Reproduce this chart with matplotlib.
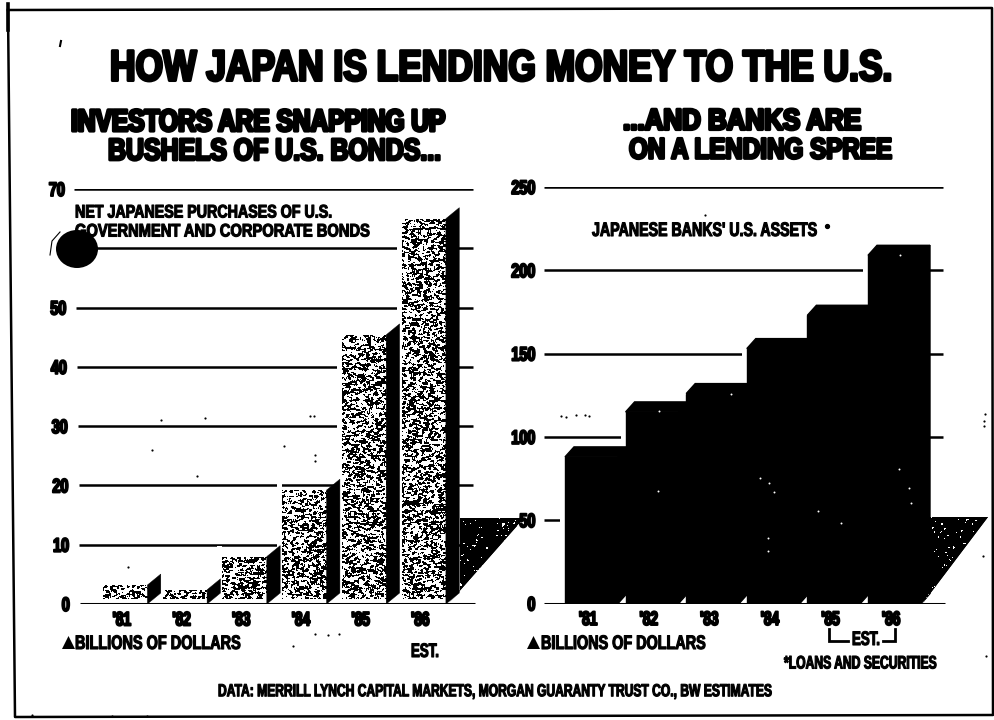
import matplotlib
matplotlib.use('Agg')
import matplotlib.pyplot as plt
import matplotlib.patheffects as pe
from matplotlib.patches import Ellipse, Polygon, Rectangle
from matplotlib.transforms import Affine2D
import numpy as np

plt.rcParams['font.family'] = ['Liberation Sans', 'DejaVu Sans']
plt.rcParams['font.weight'] = 'bold'

W, H = 994, 720

years = ["'81", "'82", "'83", "'84", "'85", "'86"]
bond_purchases = [3.2, 2.4, 8, 19.2, 45.4, 65]
bank_assets = [88, 115, 126, 153, 173, 209]
bond_ticks = [0, 10, 20, 30, 40, 50, 60, 70]
bond_tick_labels = ['0', '10', '20', '30', '40', '50', '', '70']
bank_ticks = [0, 50, 100, 150, 200, 250]

# dust on the page, dark and light
dark_specks = [(161, 420), (205, 418), (310, 416), (314, 416), (152, 450), (284, 446), (315, 455),
               (315, 461), (128, 567), (197, 476), (315, 634), (328, 635), (339, 634), (293, 646),
               (32, 715), (112, 716), (147, 716), (561, 416), (566, 417), (576, 415), (585, 415),
               (589, 416), (985, 414), (984, 421), (984, 426), (983, 556), (986, 656), (705, 215)]
light_specks = [(658, 491), (760, 478), (769, 483), (774, 492), (899, 469), (909, 488), (911, 503),
                (818, 511), (768, 538), (768, 551), (841, 523), (659, 411), (731, 394), (900, 255)]

CAP = 0.716  # cap height of the font, in em


class TallText(pe.Stroke):
    # stretches glyphs upward from the baseline, the only font at hand is too wide
    def __init__(self, sy, lw):
        super().__init__(linewidth=lw, foreground='black')
        self.sy = sy

    def draw_path(self, renderer, gc, tpath, affine, rgbFace):
        y0 = affine.get_matrix()[1, 2]
        tall = affine + Affine2D().translate(0, -y0).scale(1, self.sy).translate(0, y0)
        super().draw_path(renderer, gc, tpath, tall, rgbFace)


fig = plt.figure(figsize=(W / 100, H / 100), dpi=100, facecolor='white')


def px_axes(x0, x1, top, bottom):
    a = fig.add_axes([x0 / W, 1 - bottom / H, (x1 - x0) / W, (bottom - top) / H])
    a.axis('off')
    return a


page = px_axes(0, W, 0, H)
page.set_xlim(0, W)
page.set_ylim(H, 0)
page.set_zorder(5)
page.patch.set_alpha(0)


def fit_text(x0, x1, y, s, cap=13, stroke=0.5):
    # font size sets the width x0..x1, the effect then sets the cap height
    t = page.text(x0, y + cap / 2, s, fontsize=10, ha='left', va='baseline', color='black')
    box = t.get_window_extent(fig.canvas.get_renderer())
    size = 10 * (x1 - x0) / box.width
    t.set_fontsize(size)
    t.set_path_effects([TallText(cap / (CAP * size * 100 / 72), stroke)])
    return t


def num_text(ax, x, y, s, ha, char_px=8.0, cap=14):
    size = char_px / 0.556 * 72 / 100
    t = ax.annotate(s, (x, y), xytext=(0, -cap / 2 * 0.72), textcoords='offset points', ha=ha, va='baseline',
                    fontsize=size, annotation_clip=False, zorder=10)
    t.set_path_effects([TallText(cap / (CAP * size * 100 / 72), 1.4)])


def make_texture(seed, level, rows=440, cols=520):
    # mottled dots: noise smeared a little sideways
    rng = np.random.default_rng(seed)
    n = rng.random((rows, cols))
    n = sum(np.roll(n, (i, j), axis=(0, 1)) for i in (0, 1) for j in (-1, 0, 1))
    return n > np.quantile(n, level)


def draw_chart(ax, values, ticks, tick_labels, first_px, step, width, dx, dy, ymax, top, bottom, side):
    scale = (bottom - top) / ymax
    ax.set_ylim(0, ymax)
    x0, x1 = ax.get_position().x0 * W, ax.get_position().x1 * W
    c0 = first_px + width / 2
    ax.set_xlim((x0 - c0) / step, (x1 - c0) / step)
    px = lambda p: (p - c0) / step
    w = width / step
    ddx, ddy = dx / step, dy / scale
    xs = np.arange(len(values))
    solid = side['top_face']

    # horizontal rules, black base line goes over the bars
    for v, lab in zip(ticks, tick_labels):
        start = side['rule_start'](v)
        if v == 0:
            ax.plot([px(start), px(side['rule_end'] + 2)], [0, 0], color='black', lw=2.2, zorder=9,
                    solid_capstyle='butt')
        else:
            ax.plot([px(start), px(side['rule_end'])], [v, v], color='black', lw=1.8, zorder=1,
                    solid_capstyle='butt')
        if lab:
            num_text(ax, px(side['label_right'](v)), v, lab, 'right')

    # clear gap in front of each bar so rules stop short of it
    gap = 5 / step
    ax.bar(xs - w / 2 - gap / 2, np.array(values) + ddy, width=gap, color='white', zorder=2)

    ax.bar(xs, values, width=w, color=side['front'], edgecolor='black' if solid else 'none', lw=1, zorder=3)
    for x, v in zip(xs, values):
        r = x + w / 2
        ax.add_patch(Polygon([(r, 0), (r, v), (r + ddx, v + ddy), (r + ddx, ddy)], closed=True,
                             fc='black', ec='black', lw=1 if solid else 0.3, zorder=4))
        if solid:
            l = x - w / 2
            ax.add_patch(Polygon([(l, v), (r, v), (r + ddx, v + ddy), (l + ddx, v + ddy)], closed=True,
                                 fc='black', ec='black', lw=1, zorder=4))
    ax.set_xticks([])
    for x, y in zip(xs, years):
        num_text(ax, px(c0 + step * x - 3.5), -14.5 / scale, y, 'center', char_px=7.6)


# left chart, stippled bars
ax1 = px_axes(40, 540, 189, 604)
left_style = dict(rule_start=lambda v: 74 + (70 - v) * 0.09, rule_end=473,
                  label_right=lambda v: 65 + (70 - v) * 0.07, front='white', top_face=False)
draw_chart(ax1, bond_purchases, bond_ticks, bond_tick_labels, 103, 59.7, 44.4, 13.4, 11, 70, 189, 604, left_style)

lims1 = ax1.get_xlim() + ax1.get_ylim()
tex = make_texture(3, 0.52)
w1 = 44.4 / 59.7
for i, v in enumerate(bond_purchases):
    im = ax1.imshow(~tex, cmap='gray', extent=lims1, aspect='auto', interpolation='nearest', zorder=3.5)
    im.set_clip_path(Rectangle((i - w1 / 2, 0.8), w1, v - 0.8, transform=ax1.transData))
ax1.set_xlim(lims1[0], lims1[1])
ax1.set_ylim(lims1[2], lims1[3])

# right chart, solid bars
ax2 = px_axes(505, 990, 187, 603.5)
right_style = dict(rule_start=lambda v: 544, rule_end=943, label_right=lambda v: 535.5,
                   front='black', top_face=True)
draw_chart(ax2, bank_assets, bank_ticks, [str(v) for v in bank_ticks], 565, 60.6, 53, 9, 10, 250, 187, 603.5, right_style)

# floors behind the last bars
floor_tex = make_texture(11, 0.04, rows=H, cols=W)
for pts in ([(460, 518), (524, 518), (449, 603), (460, 590)], [(930, 517), (988, 517), (923, 603), (930, 592)]):
    page.add_patch(Polygon(pts, closed=True, color='black', lw=0, zorder=1))
    im = page.imshow(~floor_tex, cmap='gray', extent=(0, W, H, 0), aspect='auto', interpolation='nearest', zorder=1.2)
    im.set_clip_path(Polygon(pts, closed=True, transform=page.transData))
page.set_xlim(0, W)
page.set_ylim(H, 0)

# headings
fit_text(110, 890, 65, 'HOW JAPAN IS LENDING MONEY TO THE U.S.', cap=31, stroke=2.2)
fit_text(71, 444, 120, 'INVESTORS ARE SNAPPING UP', cap=22, stroke=2.3)
fit_text(108, 442, 149, 'BUSHELS OF U.S. BONDS...', cap=22, stroke=2.0)
fit_text(623, 861, 119, '...AND BANKS ARE', cap=21, stroke=2.3)
fit_text(629, 891, 148, 'ON A LENDING SPREE', cap=21, stroke=2.0)

fit_text(75, 332, 211, 'NET JAPANESE PURCHASES OF U.S.', cap=13, stroke=0.8)
fit_text(75, 369, 230, 'GOVERNMENT AND CORPORATE BONDS', cap=13, stroke=0.8)
fit_text(592, 817, 229, "JAPANESE BANKS' U.S. ASSETS", cap=14, stroke=0.8)
page.plot([827], [226], 'o', color='black', ms=2.8)

fit_text(75, 240, 642, 'BILLIONS OF DOLLARS', cap=14, stroke=0.8)
fit_text(541, 705, 642, 'BILLIONS OF DOLLARS', cap=14, stroke=0.8)
for x in (62, 527):
    page.add_patch(Polygon([(x, 649), (x + 13, 649), (x + 6.5, 636)], closed=True, color='black', lw=0))
fit_text(411, 439, 650, 'EST.', cap=14, stroke=0.8)
fit_text(852, 880, 638, 'EST.', cap=14, stroke=0.8)
page.plot([829, 829, 848], [629, 641, 641], color='black', lw=2, solid_joinstyle='miter')
page.plot([883, 895, 895], [641, 641, 629], color='black', lw=2, solid_joinstyle='miter')
fit_text(784, 936, 662, '*LOANS AND SECURITIES', cap=13, stroke=0.8)
fit_text(218, 770, 690, 'DATA: MERRILL LYNCH CAPITAL MARKETS, MORGAN GUARANTY TRUST CO., BW ESTIMATES', cap=12.5, stroke=0.8)

# page frame
page.plot([8, 992, 993, 15, 8], [10, 8, 715, 717, 10], color='black', lw=1.8, clip_on=False)
page.plot([8, 8], [4, 30], color='black', lw=2.6)

# ink blot over the left scale
page.add_patch(Ellipse((77, 249), 42, 38, color='black', lw=0, zorder=6))
page.plot([60, 52, 50], [232, 241, 255], color='black', lw=0.8, zorder=6)
page.plot([60, 61], [46, 41], color='black', lw=1.5)

page.scatter(*zip(*dark_specks), s=2.5, color='black', lw=0, zorder=7)
page.scatter(*zip(*light_specks), s=2, color='white', lw=0, zorder=7)

fig.savefig('out.png', dpi=100)
